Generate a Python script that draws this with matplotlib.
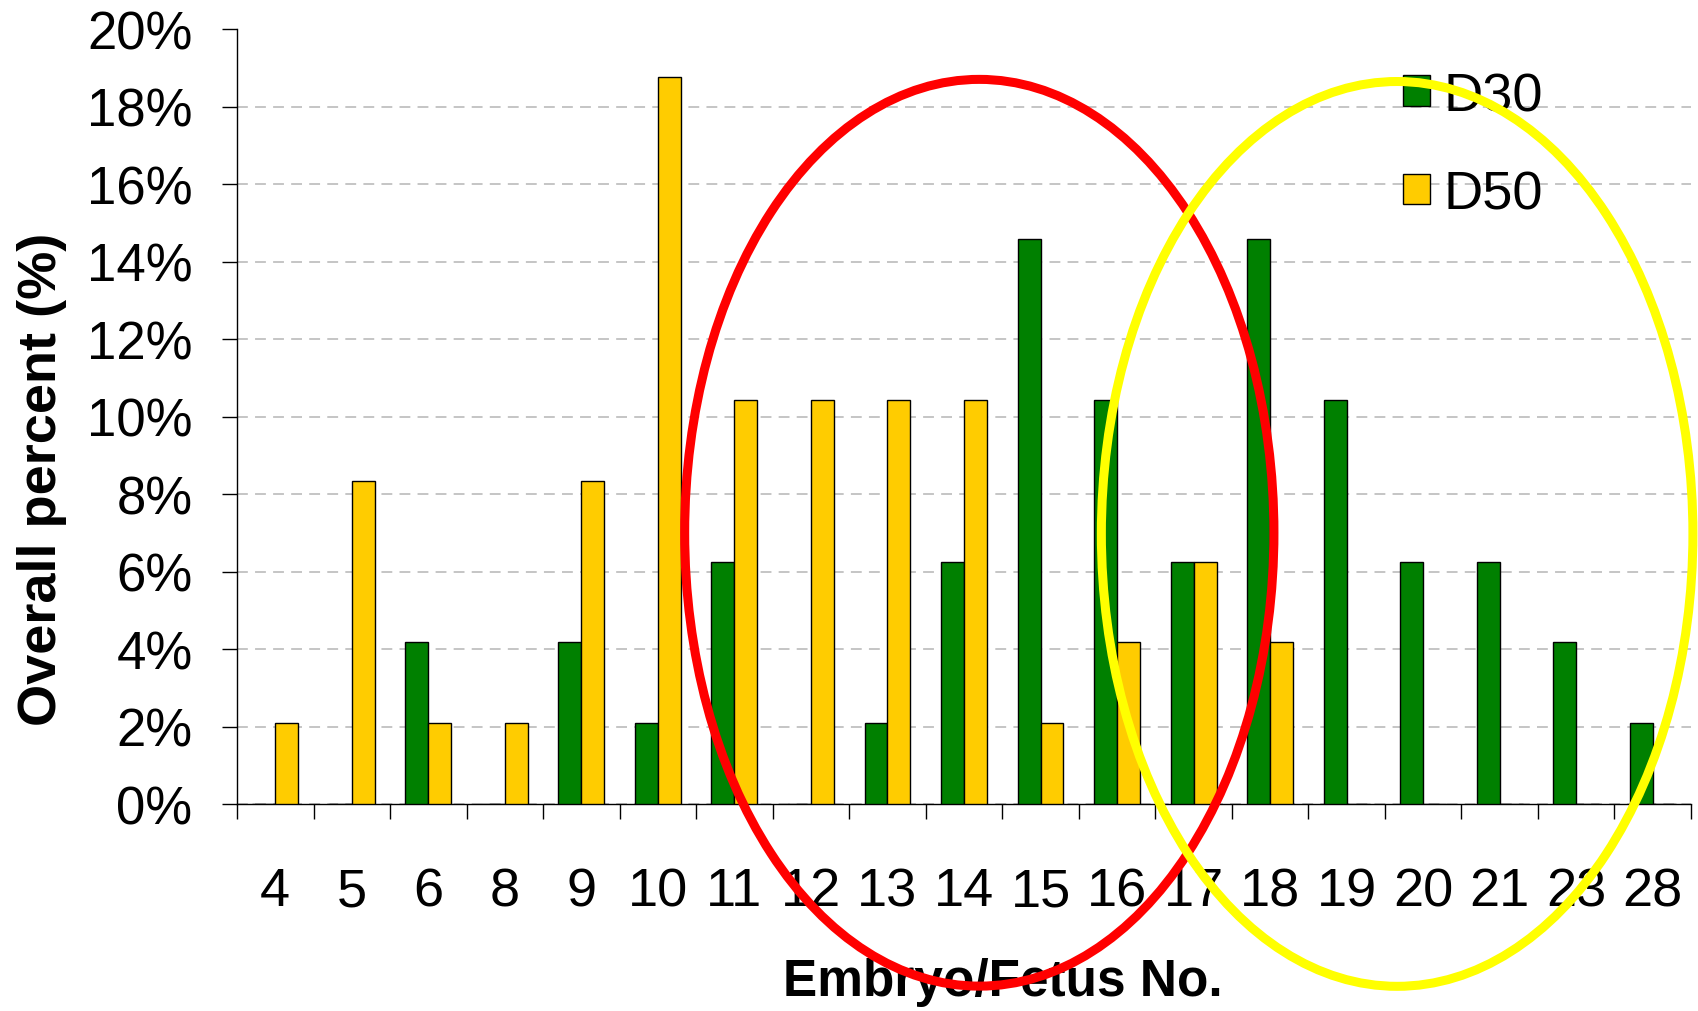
import matplotlib
matplotlib.use("Agg")
import matplotlib.pyplot as plt
import numpy as np
from matplotlib.patches import Ellipse
from matplotlib.ticker import FixedLocator, FuncFormatter

categories = ["4", "5", "6", "8", "9", "10", "11", "12", "13", "14",
              "15", "16", "17", "18", "19", "20", "21", "23", "28"]
d30 = [0, 0, 4.17, 0, 4.17, 2.08, 6.25, 0, 2.08, 6.25,
       14.58, 10.42, 6.25, 14.58, 10.42, 6.25, 6.25, 4.17, 2.08]
d50 = [2.08, 8.33, 2.08, 2.08, 8.33, 18.75, 10.42, 10.42, 10.42, 10.42,
       2.08, 4.17, 6.25, 4.17, 0, 0, 0, 0, 0]
series_names = ["D30", "D50"]

plt.rcParams["font.family"] = ["Liberation Sans", "DejaVu Sans"]

fig = plt.figure(figsize=(16.98, 10.12), dpi=100)
ax = fig.add_axes([237 / 1698, 1 - 805 / 1012, (1691 - 237) / 1698, 775 / 1012])

x = np.arange(len(categories))
w = 0.3
ax.bar(x - w / 2, d30, w, color="#008000", edgecolor="black", linewidth=1, label=series_names[0], zorder=3)
ax.bar(x + w / 2, d50, w, color="#FFCC00", edgecolor="black", linewidth=1, label=series_names[1], zorder=3)

ax.set_xlim(-0.5, len(categories) - 0.5)
ax.set_ylim(0, 20)

# y axis
ax.set_yticks(np.arange(0, 21, 2))
ax.yaxis.set_major_formatter(FuncFormatter(lambda v, p: f"{v:.0f}%"))
ax.tick_params(axis="y", direction="out", length=11, width=1, pad=21, labelsize=38)
ax.yaxis.grid(True, linestyle=(0, (6, 4)), color="#c0c0c0", linewidth=1.3)
ax.set_axisbelow(True)
ax.get_ygridlines()[-1].set_visible(False)

# x axis: ticks on category boundaries, labels in the centres
ax.xaxis.set_major_locator(FixedLocator(np.arange(len(categories) + 1) - 0.5))
ax.xaxis.set_minor_locator(FixedLocator(x))
ax.set_xticklabels([], minor=False)
ax.set_xticklabels(categories, minor=True)
ax.tick_params(axis="x", which="major", direction="out", length=11, width=1)
ax.tick_params(axis="x", which="minor", length=0, pad=45, labelsize=39)

for s in ["top", "right"]:
    ax.spines[s].set_visible(False)
ax.spines["left"].set_linewidth(1)
ax.spines["bottom"].set_linewidth(1)

ax.set_xlabel("Embryo/Fetus No.", fontsize=37, fontweight="bold")
ax.xaxis.set_label_coords(0.5265, -0.198)
ax.set_ylabel("Overall percent (%)", fontsize=39, fontweight="bold")
ax.yaxis.set_label_coords(-0.117, 0.42)

ax.legend(loc="upper left", bbox_to_anchor=(1403 / 1698, 1 - 72 / 1012),
          bbox_transform=fig.transFigure, frameon=False, fontsize=39,
          handlelength=0.5, handleheight=0.5, handletextpad=0.25,
          labelspacing=0.89, borderpad=0, borderaxespad=0)

# highlight rings drawn over the chart
ax.add_patch(Ellipse((9.2, 7.0), 7.7, 23.4, fill=False, edgecolor="#FF0000",
                     linewidth=6.5, clip_on=False, zorder=10))
ax.add_patch(Ellipse((14.66, 6.97), 7.73, 23.35, fill=False, edgecolor="#FFFF00",
                     linewidth=6.5, clip_on=False, zorder=10))

fig.savefig("out.png", dpi=100)
